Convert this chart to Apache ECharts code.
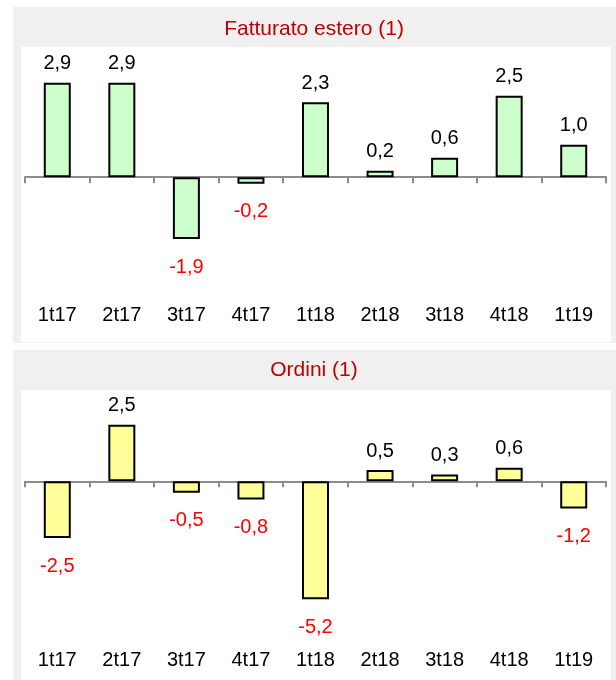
<!DOCTYPE html>
<html>
<head>
<meta charset="utf-8">
<script src="https://cdn.jsdelivr.net/npm/echarts@6/dist/echarts.min.js"></script>
<style>
  html, body { margin: 0; padding: 0; background: #fff; }
  .wrap { position: relative; width: 616px; height: 680px; }
  .panel { position: absolute; background: #f0f0f0; }
  .plot { position: absolute; background: #fff; }
  #chart { position: absolute; left: 0; top: 0; width: 616px; height: 680px; }
</style>
</head>
<body>
<div class="wrap">
  <div class="panel" style="left:13px;top:7px;width:603px;height:336px"></div>
  <div class="plot" style="left:21px;top:47px;width:590px;height:295px"></div>
  <div class="panel" style="left:13px;top:350px;width:603px;height:330px"></div>
  <div class="plot" style="left:21px;top:390px;width:590px;height:290px"></div>
  <div id="chart"></div>
</div>
<script>
// trimestri
const categories = ["1t17", "2t17", "3t17", "4t17", "1t18", "2t18", "3t18", "4t18", "1t19"];
// variazioni %
const fatturatoEstero = [2.9, 2.9, -1.9, -0.2, 2.3, 0.2, 0.6, 2.5, 1.0];
const ordini = [-2.5, 2.5, -0.5, -0.8, -5.2, 0.5, 0.3, 0.6, -1.2];
const titles = ["Fatturato estero (1)", "Ordini (1)"];

const FONT = "'Liberation Sans', Arial, sans-serif";

function fmt(v) {
  return v.toFixed(1).replace(".", ",");
}

// etichette: positive nere sopra, negative rosse sotto
function barData(values) {
  return values.map((v) => {
    return {
      value: v,
      label: v >= 0
        ? { position: "top", distance: 9, color: "#000" }
        : { position: "bottom", distance: 18, color: "#ff0000" },
    };
  });
}

function axesFor(gridIndex) {
  return [
    {
      type: "category",
      gridIndex: gridIndex,
      data: categories,
      axisLine: { onZero: true, lineStyle: { color: "#8c8c8c", width: 2 } },
      axisTick: { show: true, inside: false, length: 6, lineStyle: { color: "#8c8c8c", width: 2 } },
      axisLabel: { show: false },
      splitLine: { show: false },
    },
    {
      type: "category",
      gridIndex: gridIndex,
      position: "bottom",
      data: categories,
      axisLine: { show: false, onZero: false },
      axisTick: { show: false },
      axisLabel: { show: true, color: "#000", fontSize: 20, fontFamily: FONT, margin: gridIndex === 0 ? 4 : 19 },
      splitLine: { show: false },
    },
  ];
}

const chart = echarts.init(document.getElementById("chart"), null, { renderer: "canvas" });

const titleStyle = { color: "#c00000", fontSize: 21, fontWeight: "normal", fontFamily: FONT, lineHeight: 22 };

const option = {
  backgroundColor: "transparent",
  animation: false,
  title: [
    { text: titles[0], left: 314, top: 18, textAlign: "center", padding: 0, textStyle: titleStyle },
    { text: titles[1], left: 314, top: 359, textAlign: "center", padding: 0, textStyle: titleStyle },
  ],
  grid: [
    { left: 25, width: 581, top: 60, height: 241, containLabel: false },
    { left: 25, width: 581, top: 402, height: 229, containLabel: false },
  ],
  xAxis: [...axesFor(0), ...axesFor(1)],
  yAxis: [
    { type: "value", gridIndex: 0, min: -3.8, max: 3.6, show: false },
    { type: "value", gridIndex: 1, min: -6.6, max: 3.5, show: false },
  ],
  series: [
    {
      type: "bar",
      xAxisIndex: 0,
      yAxisIndex: 0,
      barWidth: 27,
      data: barData(fatturatoEstero),
      itemStyle: { color: "#ccffcc", borderColor: "#000", borderWidth: 2 },
      label: { show: true, fontSize: 20, fontFamily: FONT, formatter: (p) => fmt(p.value) },
    },
    {
      type: "bar",
      xAxisIndex: 2,
      yAxisIndex: 1,
      barWidth: 27,
      data: barData(ordini),
      itemStyle: { color: "#ffff99", borderColor: "#000", borderWidth: 2 },
      label: { show: true, fontSize: 20, fontFamily: FONT, formatter: (p) => fmt(p.value) },
    },
  ],
};

chart.setOption(option);
</script>
</body>
</html>
